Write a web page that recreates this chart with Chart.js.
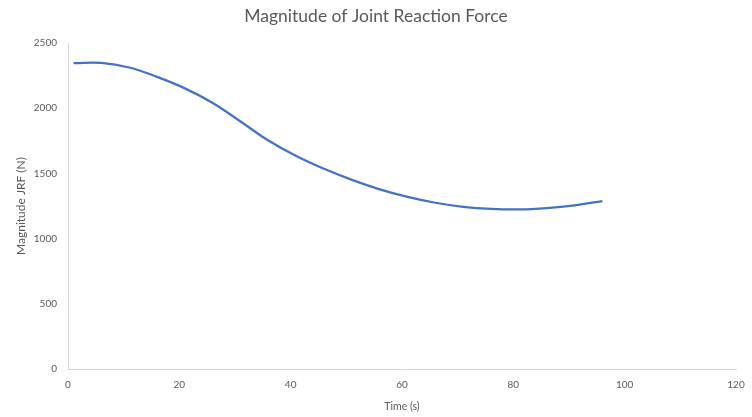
<!DOCTYPE html>
<html>
<head>
<meta charset="utf-8">
<script src="https://cdn.jsdelivr.net/npm/chart.js@4/dist/chart.umd.min.js"></script>
<style>
  html, body { margin: 0; padding: 0; background: #fff; }
  #wrap { width: 752px; height: 417px; }
</style>
</head>
<body>
<div id="wrap"><canvas id="jrfChart" width="752" height="417"></canvas></div>
<script>
// time in seconds
const times = [1, 6, 11, 16, 21, 26, 31, 36, 41, 46, 51, 56, 61, 66, 71, 76, 81, 86, 91, 96];
// magnitude of joint reaction force (N)
const jrf = [2345, 2347, 2312, 2240, 2152, 2040, 1898, 1752, 1633, 1535, 1450, 1378, 1320, 1275, 1244, 1228, 1224, 1234, 1255, 1288];

const xTicks = [0, 20, 40, 60, 80, 100, 120];
const yTicks = [0, 500, 1000, 1500, 2000, 2500];

const textColor = '#595959';
const axisColor = '#d9d9d9';
const fontFamily = 'Lato, "Open Sans", sans-serif';

const points = times.map((t, i) => ({ x: t, y: jrf[i] }));

const ctx = document.getElementById('jrfChart').getContext('2d');
new Chart(ctx, {
    type: 'line',
    data: {
        datasets: [{
            label: 'Magnitude JRF',
            data: points,
            borderColor: '#4472C4',
            borderWidth: 2.25,
            pointRadius: 0,
            fill: false,
            tension: 0.4
        }]
    },
    options: {
        responsive: false,
        animation: false,
        layout: { padding: 0 },
        plugins: {
            legend: { display: false },
            tooltip: { enabled: false },
            title: {
                display: true,
                text: 'Magnitude of Joint Reaction Force',
                color: textColor,
                font: { family: fontFamily, size: 17.5, weight: 'normal' },
                padding: { top: 6, bottom: 16 }
            }
        },
        scales: {
            x: {
                type: 'linear',
                min: 0,
                max: 120,
                afterBuildTicks: (scale) => { scale.ticks = xTicks.map(v => ({ value: v })); },
                afterFit: (scale) => { scale.height = 48; scale.paddingRight = 16; },
                grid: { display: false, drawTicks: false },
                border: { display: true, color: axisColor, width: 1 },
                ticks: { color: textColor, font: { family: fontFamily, size: 10 }, padding: 10, maxRotation: 0,
                         callback: (v) => String(v) },
                title: {
                    display: true,
                    text: 'Time (s)',
                    color: textColor,
                    font: { family: fontFamily, size: 10.5 },
                    padding: { top: 0, bottom: 4 }
                }
            },
            y: {
                min: 0,
                max: 2500,
                afterBuildTicks: (scale) => { scale.ticks = yTicks.map(v => ({ value: v })); },
                afterFit: (scale) => { scale.width = 68; },
                grid: { display: false, drawTicks: false },
                border: { display: true, color: axisColor, width: 1 },
                ticks: { color: textColor, font: { family: fontFamily, size: 10 }, padding: 11,
                         callback: (v) => String(v) },
                title: {
                    display: true,
                    text: 'Magnitude JRF (N)',
                    color: textColor,
                    font: { family: fontFamily, size: 12 },
                    padding: { top: 14, bottom: 0 }
                }
            }
        }
    }
});
</script>
</body>
</html>
